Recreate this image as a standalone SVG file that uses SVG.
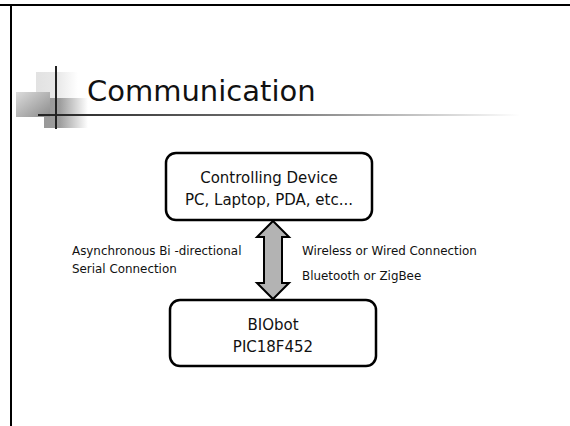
<svg xmlns="http://www.w3.org/2000/svg" width="570" height="426" viewBox="0 0 570 426">
<style>
.box{fill:#fff;stroke:#000;stroke-width:2.5}
.t{font-family:"DejaVu Sans","Liberation Sans",sans-serif;fill:#111}
.bt{font-size:15px;text-anchor:middle}
.lb{font-size:11.9px}
</style>
<defs>
<linearGradient id="gLight" x1="0" y1="0" x2="1" y2="0"><stop offset="0" stop-color="#e2e2e2"/><stop offset="0.5" stop-color="#e8e8e8"/><stop offset="1" stop-color="#fff"/></linearGradient>
<linearGradient id="gMid" x1="0" y1="0" x2="1" y2="1"><stop offset="0" stop-color="#dcdcdc"/><stop offset="1" stop-color="#8c8c8c"/></linearGradient>
<linearGradient id="gDark" x1="0" y1="0" x2="1" y2="0"><stop offset="0" stop-color="#999"/><stop offset="0.35" stop-color="#9c9c9c"/><stop offset="1" stop-color="#fff"/></linearGradient>
<linearGradient id="gLine" x1="0" y1="0" x2="1" y2="0"><stop offset="0" stop-color="#222"/><stop offset="0.5" stop-color="#777"/><stop offset="1" stop-color="#fff"/></linearGradient>
</defs>
<g id="frame">
<line x1="0" y1="5" x2="570" y2="5" stroke="#000" stroke-width="2"/>
<line x1="11" y1="4" x2="11" y2="426" stroke="#000" stroke-width="2"/>
</g>
<g id="title">
<rect x="36" y="72" width="42" height="26" fill="url(#gLight)"/>
<rect x="44" y="98" width="44" height="30" fill="url(#gDark)"/>
<rect x="16" y="92" width="34" height="25" fill="url(#gMid)"/>
<rect x="38" y="114" width="482" height="2" fill="url(#gLine)"/>
<line x1="56" y1="66" x2="56" y2="129" stroke="#222" stroke-width="2"/>
<text class="t" x="87" y="101" font-size="29">Communication</text>
</g>
<g id="connectors">
<path d="M273 221 L289 237 L282 237 L282 283 L289 283 L273 299 L257 283 L264 283 L264 237 L257 237 Z" fill="#b3b3b3" stroke="#000" stroke-width="2" stroke-linejoin="miter"/>
</g>
<g id="controlling">
<rect class="box" x="166" y="153" width="206" height="67" rx="10"/>
<text class="t bt" x="269" y="183">Controlling Device</text>
<text class="t bt" x="269" y="205">PC, Laptop, PDA, etc...</text>
</g>
<g id="biobot">
<rect class="box" x="170" y="300" width="206" height="66" rx="10"/>
<text class="t bt" x="273" y="330">BIObot</text>
<text class="t bt" x="273" y="352">PIC18F452</text>
</g>
<g id="labels">
<text class="t lb" x="72" y="255">Asynchronous Bi -directional</text>
<text class="t lb" x="72" y="273">Serial Connection</text>
<text class="t lb" x="302" y="255">Wireless or Wired Connection</text>
<text class="t lb" x="302" y="280">Bluetooth or ZigBee</text>
</g>
</svg>
